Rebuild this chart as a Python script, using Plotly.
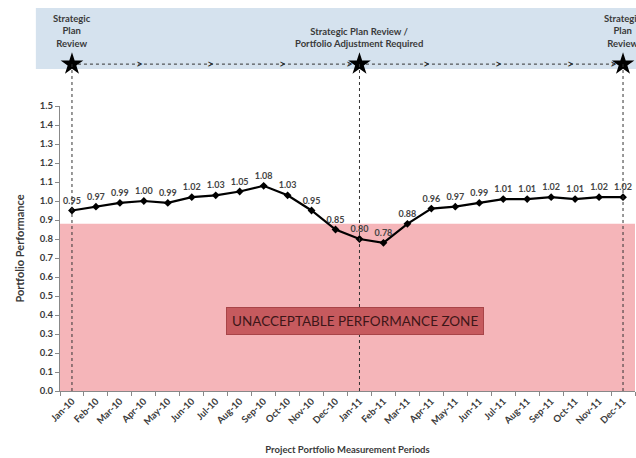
import plotly.graph_objects as go

# Measurement periods and portfolio performance index
months = ["Jan-10", "Feb-10", "Mar-10", "Apr-10", "May-10", "Jun-10", "Jul-10", "Aug-10",
          "Sep-10", "Oct-10", "Nov-10", "Dec-10", "Jan-11", "Feb-11", "Mar-11", "Apr-11",
          "May-11", "Jun-11", "Jul-11", "Aug-11", "Sep-11", "Oct-11", "Nov-11", "Dec-11"]
performance = [0.95, 0.97, 0.99, 1.00, 0.99, 1.02, 1.03, 1.05, 1.08, 1.03, 0.95, 0.85,
               0.80, 0.78, 0.88, 0.96, 0.97, 0.99, 1.01, 1.01, 1.02, 1.01, 1.02, 1.02]

# Threshold below which performance is unacceptable
threshold = 0.88

# Review milestones on the timeline banner
review_months = ["Jan-10", "Jan-11", "Dec-11"]
review_labels = ["Strategic<br>Plan<br>Review",
                 "Strategic Plan Review /<br>Portfolio Adjustment Required",
                 "Strategic<br>Plan<br>Review"]
# Positions (category index) of the direction chevrons along the timeline
chevron_pos = [2.8, 5.8, 8.8, 11.6, 14.8, 17.8, 20.8, 22.6]

W, H = 636, 458
M_L, M_R, M_T, M_B = 60, 1, 8, 67
plot_h = H - M_T - M_B
main_top = (391 - 106)  # main plot height in px
main_dom = [0, main_top / plot_h]
banner_dom = [(391 - 69) / plot_h, 1.0]
timeline_y = 0.08  # height of the timeline within the banner axis

FONT = "Lato"
TXT = "#3a3a3a"

fig = go.Figure()

# Performance line
fig.add_trace(go.Scatter(
    x=months, y=performance, mode="lines+markers+text",
    line=dict(color="black", width=2.2),
    marker=dict(symbol="diamond", size=6, color="black"),
    text=[f"{v:.2f}" for v in performance], textposition="top center",
    textfont=dict(family=FONT, size=9, color="#444444", weight="bold"),
    cliponaxis=False, showlegend=False, hoverinfo="x+y",
))

# Timeline dotted line and milestone stars
fig.add_trace(go.Scatter(
    x=[review_months[0], review_months[-1]], y=[timeline_y, timeline_y],
    mode="lines", line=dict(color="#333333", width=1, dash="dot"),
    xaxis="x", yaxis="y2", showlegend=False, hoverinfo="skip", cliponaxis=False,
))
fig.add_trace(go.Scatter(
    x=review_months, y=[timeline_y] * len(review_months), mode="markers",
    marker=dict(symbol="star", size=17, color="black"),
    xaxis="x", yaxis="y2", showlegend=False, hoverinfo="skip", cliponaxis=False,
))

shapes = [
    # unacceptable zone
    dict(type="rect", xref="x domain", yref="y", x0=0, x1=1, y0=0, y1=threshold,
         fillcolor="#F5B5B9", line=dict(width=0), layer="below"),
    # timeline banner
    dict(type="rect", xref="paper", yref="y2 domain", x0=-0.042, x1=1.01, y0=0, y1=1,
         fillcolor="#D5E2EE", line=dict(width=0), layer="below"),
]
star_paper_y = banner_dom[0] + timeline_y * (banner_dom[1] - banner_dom[0])
for m in review_months:
    shapes.append(dict(type="line", xref="x", yref="paper", x0=m, x1=m,
                       y0=0, y1=star_paper_y,
                       line=dict(color="#333333", width=1, dash="dot")))

annotations = []
for m, lab, yy in zip(review_months, review_labels, [0.62, 0.52, 0.62]):
    annotations.append(dict(x=m, y=yy, xref="x", yref="y2", text=lab, showarrow=False,
                            font=dict(family=FONT, size=9.5, color=TXT, weight="bold"),
                            align="center"))
for p in chevron_pos:
    annotations.append(dict(x=p, y=timeline_y, xref="x", yref="y2", text=">",
                            showarrow=False, yshift=1,
                            font=dict(family=FONT, size=12, color="#222222")))
annotations.append(dict(
    x=11.8, y=0.37, xref="x", yref="y", text="UNACCEPTABLE PERFORMANCE ZONE",
    showarrow=False, bgcolor="#C65A5E", bordercolor="#A84448", borderwidth=1,
    borderpad=5, font=dict(family=FONT, size=13.5, color="#3d1618")))

fig.update_layout(
    width=W, height=H,
    margin=dict(l=M_L, r=M_R, t=M_T, b=M_B),
    paper_bgcolor="white", plot_bgcolor="white",
    font=dict(family=FONT, color=TXT),
    shapes=shapes, annotations=annotations,
    xaxis=dict(
        type="category", categoryorder="array", categoryarray=months,
        range=[-0.5, 23.5], showgrid=False, showline=True, linecolor="#888888",
        linewidth=1, ticks="outside", ticklen=4, tickcolor="#888888",
        tickson="boundaries", tickangle=-45,
        tickfont=dict(family=FONT, size=9.5, color=TXT, weight="bold"),
        title=dict(text="Project Portfolio Measurement Periods", standoff=20,
                   font=dict(family=FONT, size=9.5, color=TXT, weight="bold")),
        anchor="y",
    ),
    yaxis=dict(
        domain=main_dom, range=[0, 1.5], dtick=0.1, tickformat=".1f",
        showgrid=False, showline=True, linecolor="#888888", linewidth=1,
        ticks="outside", ticklen=4, tickcolor="#888888", zeroline=False,
        tickfont=dict(family=FONT, size=9.5, color=TXT, weight="bold"),
        title=dict(text="Portfolio Performance", standoff=12,
                   font=dict(family=FONT, size=11, color=TXT, weight="bold")),
    ),
    yaxis2=dict(domain=banner_dom, range=[0, 1], visible=False, anchor="x"),
)

fig.write_html("out.html")
